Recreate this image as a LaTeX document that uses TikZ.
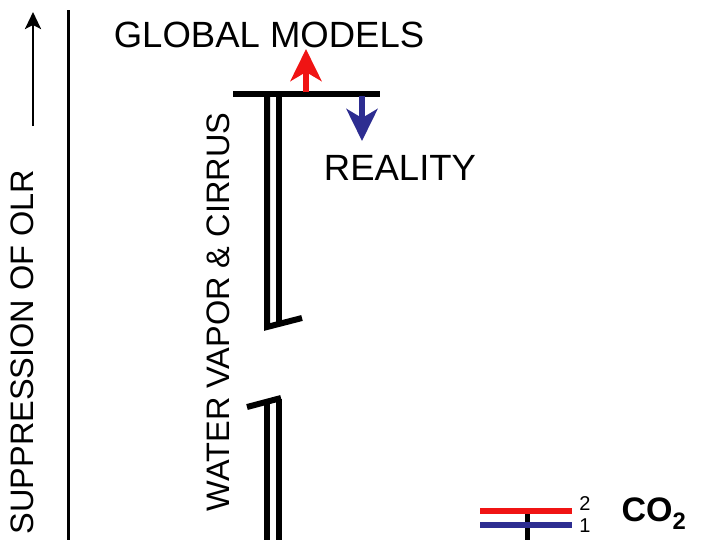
\documentclass[tikz,border=0pt]{standalone}
\usepackage{fontspec}
\setmainfont{Liberation Sans}
\usetikzlibrary{arrows.meta}

\definecolor{modelred}{RGB}{240,20,20}
\definecolor{realblue}{RGB}{45,45,145}

\tikzset{
  bigtext/.style={font=\fontsize{36.5}{36.5}\selectfont, inner sep=0pt},
  sidetext/.style={font=\fontsize{32.5}{32.5}\selectfont, inner sep=0pt, rotate=90},
  smalltext/.style={font=\fontsize{20}{20}\selectfont, inner sep=0pt},
  barline/.style={line width=6pt},
  fatarrow/.style={line width=6pt, -{Stealth[length=32pt, width=31pt, inset=9pt]}}
}

\begin{document}
\begin{tikzpicture}[x=1pt, y=-1pt]
  \useasboundingbox (0,0) rectangle (701,539);

  \coordinate (AxB) at (33,126);
  \coordinate (AxT) at (33,12);
  \coordinate (VT) at (68,10);
  \coordinate (VB) at (68,545);
  \coordinate (BarL) at (233,94);
  \coordinate (BarR) at (380,94);
  \coordinate (RedS) at (306,92);
  \coordinate (RedT) at (306,49);
  \coordinate (BlueS) at (362,96);
  \coordinate (BlueT) at (362,141);

  % axis with arrow
  \draw[line width=2.8pt, -{Stealth[length=17pt, width=16pt, inset=4pt]}] (AxB) -- (AxT);
  \draw[line width=3pt] (VT) -- (VB);

  % water vapor & cirrus bar with break
  \draw[barline] (267,94) -- (267,327) -- (302,318);
  \draw[barline] (279,94) -- (279,323);
  \draw[barline] (247,407) -- (281,398);
  \draw[barline] (279,399) -- (279,545);
  \draw[barline] (267,404) -- (267,545);
  \draw[barline] (BarL) -- (BarR);

  \draw[fatarrow, modelred] (RedS) -- (RedT);
  \draw[fatarrow, realblue] (BlueS) -- (BlueT);

  % CO2 levels
  \draw[line width=5pt] (527,512) -- (527,545);
  \draw[barline, modelred] (480,511) -- (572,511);
  \draw[barline, realblue] (480,525) -- (572,525);

  \node[sidetext] (olr) at (22,352) {SUPPRESSION OF OLR};
  \node[sidetext] (wv) at (218,312) {WATER VAPOR \& CIRRUS};
  \node[bigtext] (gm) at (269,35) {GLOBAL MODELS};
  \node[bigtext] (real) at (400,168) {REALITY};
  \node[smalltext] (two) at (585,503.5) {2};
  \node[smalltext] (one) at (585,526) {1};
  \node[font=\fontsize{34}{34}\selectfont\bfseries, inner sep=0pt] (co) at (654,514) {CO\textsubscript{2}};
\end{tikzpicture}
\end{document}
